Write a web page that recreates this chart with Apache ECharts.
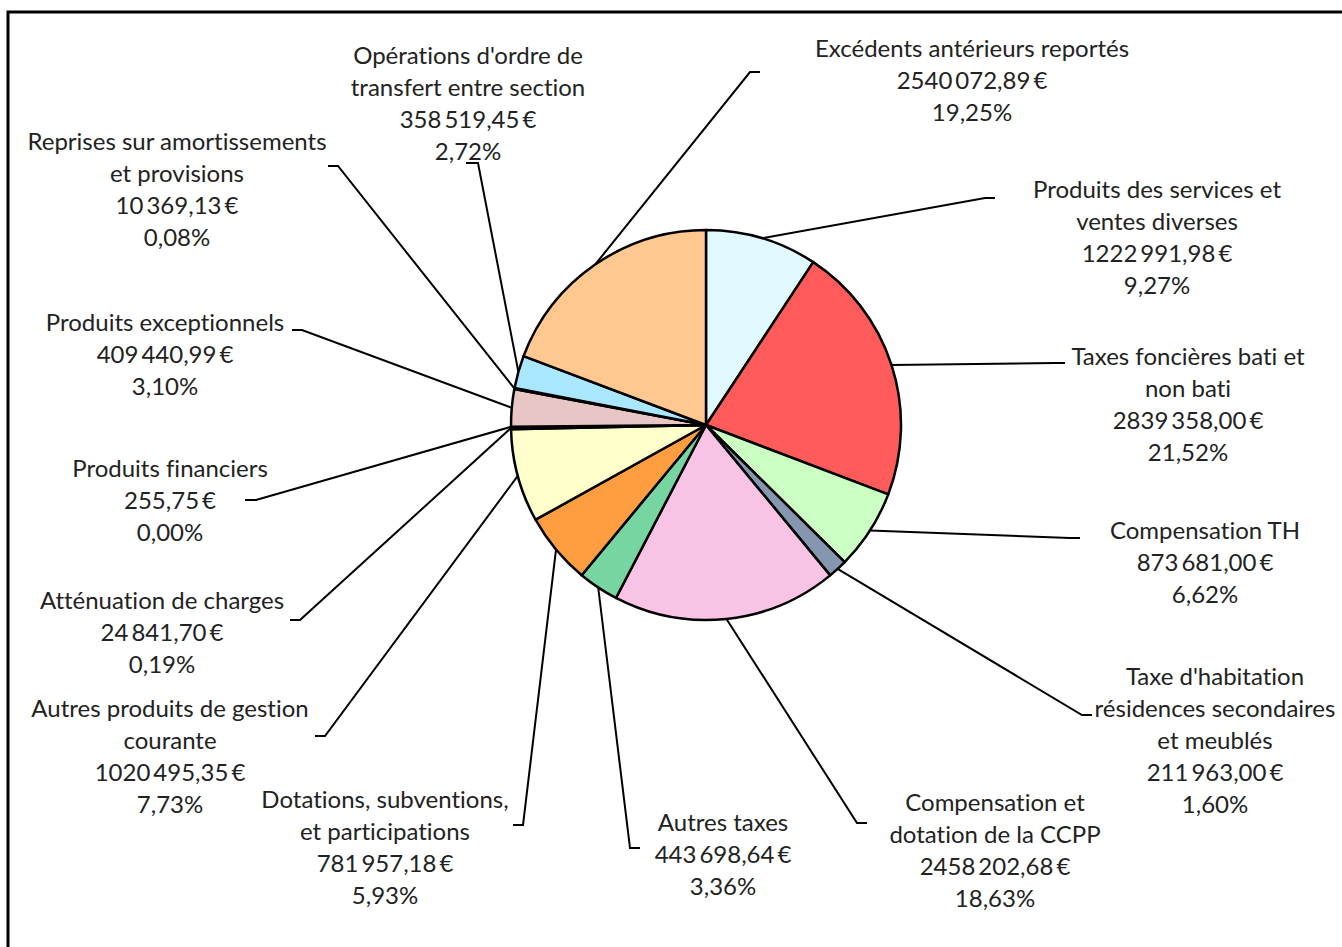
<!DOCTYPE html>
<html>
<head>
<meta charset="utf-8">
<script src="https://cdn.jsdelivr.net/npm/echarts@6/dist/echarts.min.js"></script>
<style>
  html, body { margin: 0; padding: 0; background: #fff; }
  #chart { width: 1342px; height: 947px; }
  #chart text { font-variant-ligatures: none; }
</style>
</head>
<body>
<div id="chart"></div>
<script>
// slices, clockwise from 12 o'clock
const categories = [
  "Produits des services et\nventes diverses",
  "Taxes foncières bati et\nnon bati",
  "Compensation TH",
  "Taxe d'habitation\nrésidences secondaires\net meublés",
  "Compensation et\ndotation de la CCPP",
  "Autres taxes",
  "Dotations, subventions,\net participations",
  "Autres produits de gestion\ncourante",
  "Atténuation de charges",
  "Produits financiers",
  "Produits exceptionnels",
  "Reprises sur amortissements\net provisions",
  "Opérations d'ordre de\ntransfert entre section",
  "Excédents antérieurs reportés"
];
const amounts = [
  1222991.98, 2839358.00, 873681.00, 211963.00, 2458202.68, 443698.64, 781957.18,
  1020495.35, 24841.70, 255.75, 409440.99, 10369.13, 358519.45, 2540072.89
];
// shares as printed on the chart (%)
const shares = [
  9.27, 21.52, 6.62, 1.60, 18.63, 3.36, 5.93,
  7.73, 0.19, 0.00, 3.10, 0.08, 2.72, 19.25
];
const colors = [
  "#E1FAFF", "#FF5B5B", "#CCFFC4", "#8497AF", "#F8C3E4", "#76D5A1", "#FF9E40",
  "#FFFFCC", "#C9A0DC", "#C0C0C0", "#E8C6C6", "#B0D0A0", "#A9E7FF", "#FFC891"
];

// label placement: text centre x, text top y, leader elbow and end
const labelPos = [
  { tx: 1157, ty: 172, elbow: [985, 198], end: [995, 198] },
  { tx: 1188, ty: 339, elbow: [1055, 363], end: [1065, 363] },
  { tx: 1205, ty: 513, elbow: [1070, 538], end: [1080, 538] },
  { tx: 1215, ty: 659, elbow: [1082, 715], end: [1092, 715] },
  { tx: 995, ty: 785, elbow: [857, 823], end: [867, 823] },
  { tx: 723, ty: 805, elbow: [630, 848], end: [640, 848] },
  { tx: 385, ty: 782, elbow: [523, 825], end: [513, 825] },
  { tx: 170, ty: 691, elbow: [325, 736], end: [315, 736] },
  { tx: 162, ty: 583, elbow: [300, 620], end: [290, 620] },
  { tx: 170, ty: 451, elbow: [256, 500], end: [245, 500] },
  { tx: 165, ty: 305, elbow: [302, 330], end: [292, 330] },
  { tx: 177, ty: 124, elbow: [338, 166], end: [328, 166] },
  { tx: 468, ty: 38, elbow: [478, 163], end: [466, 163] },
  { tx: 972, ty: 31, elbow: [750, 72], end: [760, 72] }
];

function euro(v) {
  const parts = v.toFixed(2).split(".");
  let int = parts[0];
  if (int.length > 3) int = int.slice(0, -3) + "\u2009" + int.slice(-3);
  return int + "," + parts[1] + "\u2009€";
}

const chart = echarts.init(document.getElementById("chart"), null, { renderer: "svg" });

chart.setOption({
  animation: false,
  graphic: [{
    type: "rect",
    shape: { x: 8, y: 12, width: 1400, height: 1000 },
    style: { fill: "none", stroke: "#000", lineWidth: 3 },
    silent: true
  }],
  series: [{
    type: "pie",
    center: [706, 425],
    radius: 195,
    startAngle: 90,
    clockwise: true,
    avoidLabelOverlap: false,
    itemStyle: { borderColor: "#000", borderWidth: 2.5 },
    label: {
      show: true,
      position: "outside",
      fontFamily: "Lato, 'Open Sans', sans-serif",
      fontSize: 24,
      lineHeight: 32,
      color: "#222",
      align: "center",
      formatter: p => p.name + "\n" + euro(p.value) + "\n" +
        shares[p.dataIndex].toFixed(2).replace(".", ",") + "%"
    },
    labelLine: { show: true, lineStyle: { color: "#000", width: 2 } },
    labelLayout: params => {
      const lp = labelPos[params.dataIndex];
      const pts = params.labelLinePoints;
      return {
        x: lp.tx,
        y: lp.ty,
        align: "center",
        verticalAlign: "top",
        labelLinePoints: [pts[0], lp.elbow, lp.end]
      };
    },
    emphasis: { disabled: true },
    data: categories.map((name, i) => ({
      name: name,
      value: amounts[i],
      itemStyle: { color: colors[i] }
    }))
  }]
});
</script>
</body>
</html>
